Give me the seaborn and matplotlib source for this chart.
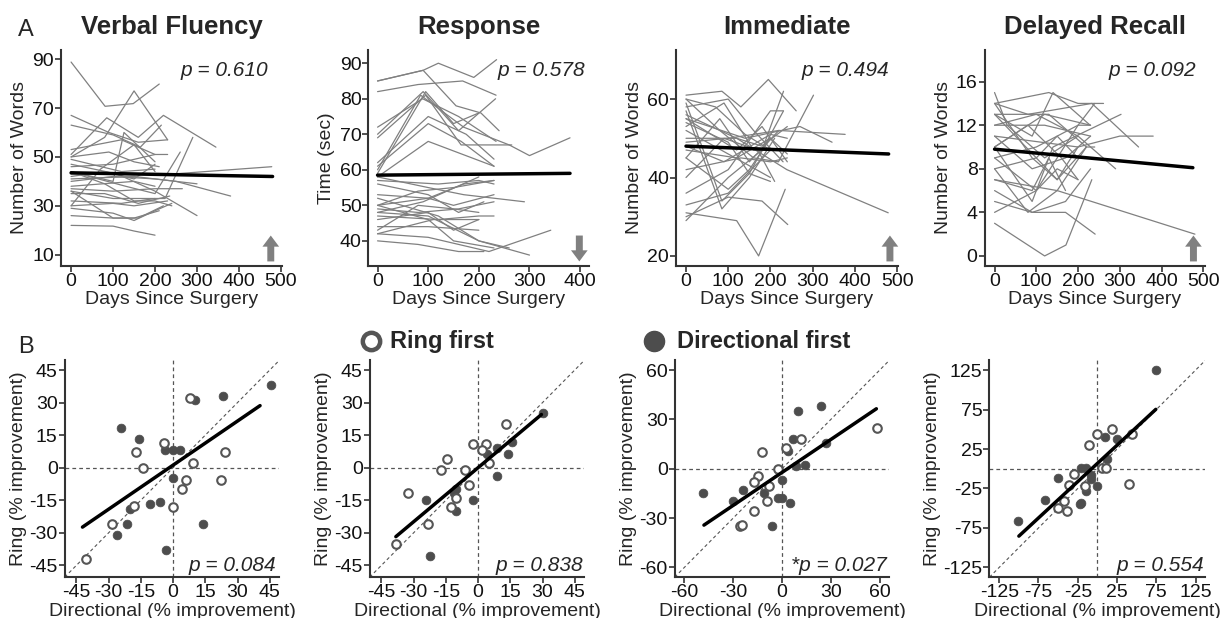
import numpy as np
import pandas as pd
import matplotlib
matplotlib.use('Agg')
import matplotlib.pyplot as plt
import seaborn as sns

# ---- data: panel A (individual trajectories) ----

vf_days = [[0, 81, 148, 210], [0, 90, 160, 230], [0, 100, 165, 215], [0, 80, 150, 230],
           [0, 85, 160, 220, 345], [0, 100, 126, 200], [0, 100, 224, 290], [0, 130, 200, 260],
           [0, 240, 478], [0, 150, 250, 380], [0, 110, 200, 300], [0, 100, 150, 200],
           [0, 100, 150, 210], [0, 100, 150, 200, 240], [0, 100, 150, 230], [0, 120, 200],
           [0, 80, 160, 235], [0, 100, 200, 265], [0, 150, 200], [0, 100, 200, 300],
           [0, 80, 150, 200], [0, 100, 200, 230], [0, 90, 150, 210], [0, 120, 200],
           [0, 120, 200], [0, 80, 150, 200, 240], [0, 100, 160, 220], [0, 70, 150, 200]]
vf_vals = [[88.8, 70.7, 71.8, 79.8], [67, 60, 56, 57], [63, 59, 54, 63], [50, 58, 77, 57],
           [51, 66, 58, 67, 54], [44, 40, 60, 48], [36, 33, 33, 58], [44, 38, 35, 52],
           [43, 43, 46], [41, 42, 40, 34], [47, 43, 36, 26], [22, 21.7, 19.7, 18],
           [26, 25, 25, 28], [29, 27, 24, 28, 31], [30, 31, 30, 32], [32, 31, 33],
           [35, 35, 31, 34], [37, 36, 37, 37], [38, 40, 38], [40, 42, 41, 39],
           [42, 44, 41, 47], [46, 47, 51, 51], [50, 52, 48, 46], [49, 44, 45],
           [53, 57, 51], [44, 39, 32, 32, 30], [36, 25, 25, 30], [30, 45, 55, 44]]
vf_fit_days = [0, 480]
vf_fit = [43.5, 42.0]

rt_days = [[0, 90, 120, 190, 235], [0, 90, 155, 204, 240], [0, 80, 168, 234], [0, 89, 160, 234],
           [0, 90, 160, 233], [0, 95, 165, 265], [0, 100, 175, 230], [0, 100, 165, 230],
           [0, 95, 150, 200], [0, 100, 230], [0, 85, 170, 260, 300, 380], [0, 100, 170, 290],
           [0, 120, 200, 230], [0, 100, 160, 210], [0, 100, 150, 230], [0, 80, 150, 230],
           [0, 100, 170, 230], [0, 80, 160, 230], [0, 90, 200], [0, 120, 200, 230],
           [0, 100, 150, 200], [0, 100, 200], [0, 80, 150, 200], [0, 110, 200],
           [0, 100, 220, 342], [0, 80, 160, 210], [0, 100, 150, 230], [0, 120, 200, 300],
           [0, 100, 200, 260]]
rt_vals = [[85, 88, 90, 86, 91], [85, 88, 78, 76, 71], [82, 84, 85, 81], [72, 80, 75, 68],
           [70, 82, 71, 80], [69, 81, 67, 67], [62, 75, 70, 63], [61, 73, 68, 61],
           [59, 82, 73, 76], [58, 68, 61], [60, 81, 72, 67, 64, 69], [58, 55, 53, 51],
           [57, 56, 57, 56], [56, 53, 48, 51], [53, 52, 50, 53], [50, 54, 55, 57],
           [50, 52, 56, 57], [49, 48, 49, 51], [48, 51, 58], [47, 46, 47, 47],
           [46, 48, 43, 46], [44, 44, 43], [43, 50, 49, 48], [42, 46, 46],
           [42, 41, 37, 43], [40, 39, 37, 37], [50, 46, 40, 38], [52, 47, 40, 36],
           [48, 47, 40, 38]]
rt_fit_days = [0, 380]
rt_fit = [58.5, 59.0]

im_days = [[0, 85, 130, 195, 261], [0, 80, 160, 219, 302], [0, 120, 239, 479], [0, 120, 172, 235],
           [0, 100, 180, 241], [0, 100, 220, 377], [0, 140, 270, 346], [0, 100, 160, 230],
           [0, 85, 150, 210], [0, 85, 150, 231], [0, 100, 200, 230], [0, 100, 200],
           [0, 90, 170, 210], [0, 80, 150, 220], [0, 120, 200, 240], [0, 120, 180, 240],
           [0, 100, 200], [0, 90, 160, 230], [0, 100, 150, 200], [0, 120, 180, 240],
           [0, 130, 200, 240], [0, 100, 180, 231], [0, 100, 150, 200], [0, 90, 200, 240],
           [0, 70, 140, 200]]
im_vals = [[61, 62, 58, 65, 57], [60, 52, 45, 44, 61], [56, 50, 42, 31], [31, 29, 20, 37],
           [30, 35, 34, 28], [49, 50, 52, 51], [55, 50, 53, 49], [58, 60, 52, 44],
           [57, 32, 40, 50], [59, 34, 41, 57], [36, 42, 57, 57], [33, 36, 47],
           [40, 50, 47, 39], [45, 55, 44, 52], [47, 45, 50, 46], [50, 50, 48, 53],
           [52, 46, 40], [53, 59, 47, 47], [54, 49, 41, 39], [55, 47, 53, 44],
           [42, 45, 44, 45], [29, 40, 47, 62], [45, 37, 42, 50], [48, 44, 51, 50],
           [60, 58, 51, 47]]
im_fit_days = [0, 480]
im_fit = [48.0, 46.0]

dr_days = [[0, 30, 120, 200], [0, 130, 200, 261], [0, 80, 233, 345], [0, 90, 140, 229],
           [0, 120, 171, 233], [0, 90, 170, 241], [0, 150, 480], [0, 100, 200, 240],
           [0, 80, 150, 220], [0, 90, 140, 303], [0, 200, 300, 380], [0, 120, 230],
           [0, 100, 200, 230], [0, 120, 230], [0, 100, 150, 220], [0, 90, 150, 200],
           [0, 100, 150, 200], [0, 100, 150, 200], [0, 90, 130, 170], [0, 100, 200, 290],
           [0, 130, 220, 240], [0, 80, 160, 200], [0, 90, 170, 230], [0, 90, 170, 230]]
dr_vals = [[15, 12, 9, 11], [14, 15, 14, 14], [14, 13, 14, 10], [13, 11, 15, 12],
           [3, 0, 1, 7], [5, 4, 4, 2], [7, 6, 2], [4, 6, 12, 14],
           [8, 4, 6, 10], [10, 5, 10, 13], [11, 10, 11, 11], [12, 12, 11],
           [9, 10, 12, 12], [10, 13, 12], [13, 9, 7, 10], [14, 9, 7, 10],
           [8, 9, 11, 9], [9, 6, 8, 7], [7, 6, 9, 6], [12, 13, 11, 8],
           [13, 13, 10, 10], [10, 12, 9, 7], [11, 8, 9, 11], [6, 4, 5, 8]]
dr_fit_days = [0, 475]
dr_fit = [9.8, 8.1]

top_titles = ['Verbal Fluency', 'Response', 'Immediate', 'Delayed Recall']
top_ylabels = ['Number of Words', 'Time (sec)', 'Number of Words', 'Number of Words']
top_pvals = ['p = 0.610', 'p = 0.578', 'p = 0.494', 'p = 0.092']
top_arrow_up = [True, False, True, True]

# ---- data: panel B (ring vs directional), 'R' = ring first, 'D' = directional first ----

b1_dir = [45.7, 8.1, 10.2, 23.4, -24.2, -16.1, -17.2, -4.2, -4.0, 0.0, 3.3, -14.1, 9.1, 24.3, 0.0,
          6.2, 4.0, 22.2, -10.9, -6.2, -18.1, -20.2, 0.0, 14.1, -28.4, -21.4, -26.2, -3.1, -40.5]
b1_ring = [38.2, 32.1, 31.1, 33.2, 18.2, 13.2, 7.1, 11.4, 8.3, 8.3, 8.3, 0.0, 2.1, 7.1, -4.8,
           -5.8, -10.0, -5.8, -16.8, -15.8, -17.9, -18.9, -18.0, -25.9, -25.9, -25.9, -31.1, -37.9, -42.0]
b1_first = ['D', 'R', 'D', 'D', 'D', 'D', 'R', 'R', 'D', 'D', 'D', 'R', 'R', 'R', 'D',
            'R', 'R', 'R', 'D', 'D', 'R', 'D', 'R', 'D', 'R', 'D', 'D', 'D', 'R']
b1_fit_x = [-42.2, 40.5]
b1_fit_y = [-27.4, 28.6]

b2_dir = [30.1, 13.0, 16.0, 8.8, -2.2, 3.9, 1.9, 4.2, 13.9, 4.9, -14.4, -17.3, -6.2, 8.8, -4.2,
          -32.6, -10.5, -11.3, -10.3, -24.2, -2.3, -12.5, -10.3, -23.5, -38.4, -22.2]
b2_ring = [25.0, 20.3, 12.0, 9.0, 10.9, 10.9, 8.2, 6.4, 6.1, 2.1, 4.1, -0.9, -0.9, -3.8, -8.0,
           -11.8, -10.0, -11.8, -14.1, -14.8, -14.8, -18.0, -19.8, -25.8, -35.0, -40.9]
b2_first = ['D', 'R', 'D', 'D', 'R', 'R', 'R', 'D', 'D', 'R', 'R', 'R', 'R', 'D', 'R',
            'R', 'D', 'D', 'R', 'D', 'D', 'R', 'D', 'R', 'R', 'D']
b2_fit_x = [-38.3, 29.5]
b2_fit_y = [-31.8, 24.5]

b3_dir = [9.8, 23.8, 58.1, 6.8, 11.9, 2.7, 3.9, 27.3, -12.3, -2.5, 8.8, 13.9, -15.0, -17.4,
          -8.0, -0.2, -48.4, -24.2, -11.3, -30.2, -9.2, -2.3, -0.2, 4.9, -17.4, -26.1, -24.6, -6.2]
b3_ring = [34.9, 38.0, 25.1, 18.1, 18.1, 12.4, 11.0, 15.9, 10.0, 0.0, 1.8, 2.0, -4.6, -8.0,
           -10.2, -7.0, -14.7, -12.9, -14.7, -19.7, -19.7, -17.9, -17.9, -20.7, -25.7, -35.1, -34.3, -34.7]
b3_first = ['D', 'D', 'R', 'D', 'R', 'R', 'D', 'D', 'R', 'R', 'D', 'D', 'R', 'R',
            'R', 'D', 'D', 'D', 'D', 'D', 'R', 'D', 'D', 'D', 'R', 'R', 'R', 'D']
b3_fit_x = [-48.0, 58.0]
b3_fit_y = [-34.3, 36.5]

b4_dir = [74.4, 19.1, 43.8, 0.0, 9.8, 24.7, -10.6, 11.9, 5.5, 10.6, -20.4, -14.9, -29.8, -8.5,
          -8.1, -36.1, -50.3, -15.7, -0.9, -14.9, 40.0, -67.3, -42.2, -21.3, -22.5, -50.3, -38.3, -100.8]
b4_ring = [125.8, 50.5, 44.2, 43.8, 40.8, 37.9, 30.3, 12.2, 0.4, 0.4, 0.4, 0.4, -6.7, -7.6,
           -13.0, -20.2, -11.8, -22.3, -22.3, -28.6, -19.4, -39.6, -41.2, -43.8, -44.6, -49.7, -53.0, -66.5]
b4_first = ['D', 'R', 'R', 'R', 'D', 'D', 'R', 'D', 'R', 'R', 'D', 'D', 'R', 'D',
            'D', 'R', 'D', 'R', 'D', 'D', 'R', 'D', 'R', 'D', 'D', 'R', 'R', 'D']
b4_fit_x = [-100.0, 74.4]
b4_fit_y = [-85.4, 75.3]

bottom_pvals = ['p = 0.084', 'p = 0.838', '*p = 0.027', 'p = 0.554']


def long_table(days, vals):
    rows = []
    for i, (d, v) in enumerate(zip(days, vals)):
        for dd, vv in zip(d, v):
            rows.append((i, dd, vv))
    return pd.DataFrame(rows, columns=['subject', 'day', 'value'])


sns.set_style('ticks')
plt.rcParams['font.family'] = ['Liberation Sans', 'DejaVu Sans']
plt.rcParams['axes.unicode_minus'] = False

fig = plt.figure(figsize=(12.2, 6.18), dpi=100)

SPINE = '#333333'
GRAY = '#808080'
DARK = '#4d4d4d'


def style_axes(ax):
    sns.despine(ax=ax)
    for s in ['left', 'bottom']:
        ax.spines[s].set_linewidth(1.5)
        ax.spines[s].set_color(SPINE)
    ax.tick_params(length=4, width=1.2, color=SPINE, labelcolor='#111111',
                   labelsize=14, pad=1)


# ---- panel A ----
top_pos = [[0.050, 0.570, 0.181, 0.349], [0.302, 0.570, 0.181, 0.349],
           [0.554, 0.570, 0.182, 0.349], [0.807, 0.570, 0.181, 0.349]]
top_xlim = [(-24, 502), (-18, 418), (-24, 502), (-24, 505)]
top_ylim = [(5.5, 93.7), (33, 93.7), (17.5, 72.5), (-0.9, 18.9)]
top_xticks = [range(0, 501, 100), range(0, 401, 100), range(0, 501, 100), range(0, 501, 100)]
top_yticks = [[10, 30, 50, 70, 90], [40, 50, 60, 70, 80, 90], [20, 40, 60], [0, 4, 8, 12, 16]]
p_top_x = [0.94, 0.98, 0.96, 0.96]
arrow_x = [0.95, 0.955, 0.964, 0.946]

panels = [(vf_days, vf_vals, vf_fit_days, vf_fit), (rt_days, rt_vals, rt_fit_days, rt_fit),
          (im_days, im_vals, im_fit_days, im_fit), (dr_days, dr_vals, dr_fit_days, dr_fit)]

for i, (days, vals, fd, fv) in enumerate(panels):
    ax = fig.add_axes(top_pos[i])
    df = long_table(days, vals)
    sns.lineplot(data=df, x='day', y='value', units='subject', estimator=None,
                 color=GRAY, lw=0.9, ax=ax, legend=False)
    sns.lineplot(x=fd, y=fv, color='black', lw=2.5, ax=ax, legend=False)
    ax.set_xlim(top_xlim[i])
    ax.set_ylim(top_ylim[i])
    ax.set_xticks(list(top_xticks[i]))
    ax.set_yticks(top_yticks[i])
    style_axes(ax)
    ax.set_xlabel('Days Since Surgery', fontsize=14, labelpad=1)
    ax.set_ylabel(top_ylabels[i], fontsize=14, labelpad=3)
    ax.text(p_top_x[i], 0.907, top_pvals[i], transform=ax.transAxes, ha='right', va='center',
            fontsize=15, style='italic')
    if top_arrow_up[i]:
        y0, y1 = 0.02, 0.14
    else:
        y0, y1 = 0.14, 0.02
    ax.annotate('', xy=(arrow_x[i], y1), xytext=(arrow_x[i], y0), xycoords='axes fraction',
                arrowprops=dict(facecolor=GRAY, edgecolor='none', width=5, headwidth=12,
                                headlength=8))
    cx = top_pos[i][0] + top_pos[i][2] / 2
    fig.text(cx, 0.956, top_titles[i], ha='center', va='center', fontsize=18.5,
             fontweight='bold')

# ---- panel B ----
bot_pos = [[0.053, 0.066, 0.176, 0.351], [0.303, 0.066, 0.176, 0.351],
           [0.553, 0.066, 0.176, 0.351], [0.811, 0.066, 0.177, 0.351]]
bot_lim = [(-50.5, 49.5), (-50.5, 49.5), (-66, 66), (-137.5, 137.5)]
bot_ticks = [[-45, -30, -15, 0, 15, 30, 45], [-45, -30, -15, 0, 15, 30, 45],
             [-60, -30, 0, 30, 60], [-125, -75, -25, 25, 75, 125]]
p_bot_x = [0.986, 0.995, 0.99, 0.995]

scat = [(b1_dir, b1_ring, b1_first, b1_fit_x, b1_fit_y),
        (b2_dir, b2_ring, b2_first, b2_fit_x, b2_fit_y),
        (b3_dir, b3_ring, b3_first, b3_fit_x, b3_fit_y),
        (b4_dir, b4_ring, b4_first, b4_fit_x, b4_fit_y)]

for i, (dx, ry, first, fx, fy) in enumerate(scat):
    ax = fig.add_axes(bot_pos[i])
    df = pd.DataFrame({'dir': dx, 'ring': ry, 'first': first})
    ax.axhline(0, color='#555555', lw=0.9, ls=(0, (3, 2.5)), zorder=1)
    ax.axvline(0, color='#555555', lw=0.9, ls=(0, (3, 2.5)), zorder=1)
    ax.axline((0, 0), slope=1, color='#555555', lw=0.8, ls=(0, (3, 2.5)), zorder=1)
    sns.scatterplot(data=df[df['first'] == 'D'], x='dir', y='ring', color=DARK,
                    edgecolor=DARK, s=40, linewidth=0.5, ax=ax, zorder=3, legend=False)
    sns.scatterplot(data=df[df['first'] == 'R'], x='dir', y='ring', color='white',
                    edgecolor='#555555', s=38, linewidth=1.5, ax=ax, zorder=3, legend=False)
    sns.lineplot(x=fx, y=fy, color='black', lw=2.5, ax=ax, legend=False, zorder=4)
    ax.set_xlim(bot_lim[i])
    ax.set_ylim(bot_lim[i])
    ax.set_xticks(bot_ticks[i])
    ax.set_yticks(bot_ticks[i])
    style_axes(ax)
    ax.set_xlabel('Directional (% improvement)', fontsize=14, labelpad=1)
    ax.set_ylabel('Ring (% improvement)', fontsize=14, labelpad=2)
    ax.text(p_bot_x[i], 0.055, bottom_pvals[i], transform=ax.transAxes, ha='right',
            va='center', fontsize=15, style='italic')

# group key above panel B
fig.add_artist(plt.Line2D([0.304], [0.448], marker='o', markersize=12.5, markerfacecolor='white',
                          markeredgecolor='#555555', markeredgewidth=3.2, linestyle='none'))
fig.text(0.320, 0.447, 'Ring first', ha='left', va='center', fontsize=17, fontweight='bold')
fig.add_artist(plt.Line2D([0.536], [0.448], marker='o', markersize=14.5, markerfacecolor=DARK,
                          markeredgecolor=DARK, linestyle='none'))
fig.text(0.555, 0.447, 'Directional first', ha='left', va='center', fontsize=17,
         fontweight='bold')

fig.text(0.021, 0.951, 'A', ha='center', va='center', fontsize=17)
fig.text(0.021, 0.439, 'B', ha='center', va='center', fontsize=17)

fig.savefig('out.png', dpi=100)
